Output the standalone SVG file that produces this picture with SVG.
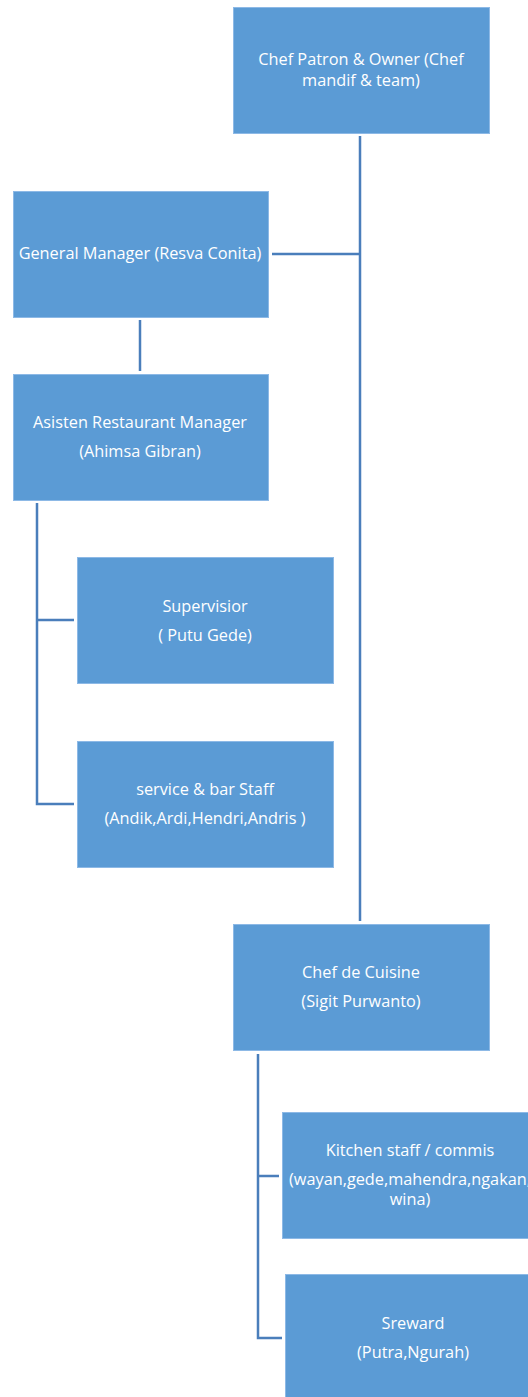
<svg xmlns="http://www.w3.org/2000/svg" width="528" height="1397" viewBox="0 0 528 1397">
<style>
.box{fill:#5B9BD5;stroke:#8DB9E6;stroke-width:1}
.t{font-family:"Open Sans","Liberation Sans",sans-serif;font-size:16.3px;fill:#FFFFFF;text-anchor:middle}
.c{fill:none;stroke:#4A7EBB;stroke-width:2.5}
</style>
<rect width="528" height="1397" fill="#FFFFFF"/>
<g id="connectors">
<path class="c" d="M360 136 V921"/>
<path class="c" d="M272 254 H360"/>
<path class="c" d="M140 320 V371"/>
<path class="c" d="M37 503 V804 H74 M37 620 H74"/>
<path class="c" d="M258 1054 V1338 H282 M258 1176 H279"/>
</g>
<g id="owner">
<rect class="box" x="233.5" y="7.5" width="256" height="126"/>
<text class="t" x="361" y="65">Chef Patron &amp; Owner (Chef</text>
<text class="t" x="361" y="86">mandif &amp; team)</text>
</g>
<g id="gm">
<rect class="box" x="13.5" y="191.5" width="255" height="126"/>
<text class="t" x="140" y="259">General Manager (Resva Conita)</text>
</g>
<g id="arm">
<rect class="box" x="13.5" y="374.5" width="255" height="126"/>
<text class="t" x="140" y="428">Asisten Restaurant Manager</text>
<text class="t" x="140" y="457">(Ahimsa Gibran)</text>
</g>
<g id="supervisor">
<rect class="box" x="77.5" y="557.5" width="256" height="126"/>
<text class="t" x="205" y="612">Supervisior</text>
<text class="t" x="205" y="641">( Putu Gede)</text>
</g>
<g id="service">
<rect class="box" x="77.5" y="741.5" width="256" height="126"/>
<text class="t" x="205" y="795">service &amp; bar Staff</text>
<text class="t" x="205" y="824" xml:space="preserve">(Andik,Ardi,Hendri,Andris )</text>
</g>
<g id="chef-de-cuisine">
<rect class="box" x="233.5" y="924.5" width="256" height="126"/>
<text class="t" x="361" y="978">Chef de Cuisine</text>
<text class="t" x="361" y="1007">(Sigit Purwanto)</text>
</g>
<g id="kitchen">
<rect class="box" x="282.5" y="1112.5" width="256" height="126"/>
<text class="t" x="410" y="1156">Kitchen staff / commis</text>
<text class="t" x="410" y="1185">(wayan,gede,mahendra,ngakan,</text>
<text class="t" x="410" y="1205">wina)</text>
</g>
<g id="steward">
<rect class="box" x="285.5" y="1274.5" width="256" height="126"/>
<text class="t" x="413" y="1329">Sreward</text>
<text class="t" x="413" y="1358">(Putra,Ngurah)</text>
</g>
</svg>
